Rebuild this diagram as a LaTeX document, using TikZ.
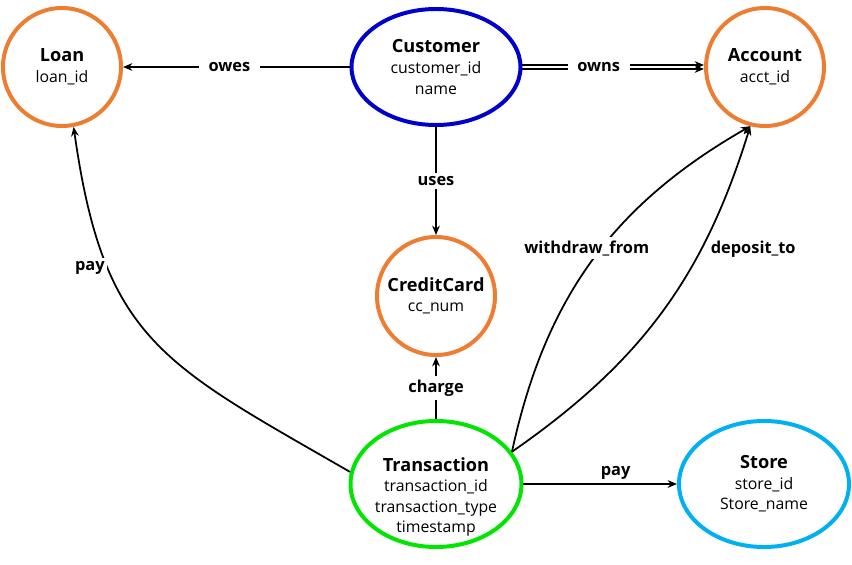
\documentclass[tikz,border=0pt]{standalone}
\usepackage{fontspec}
\setmainfont{Open Sans}
\usepackage{xcolor}
\usepackage{tikz}
\usetikzlibrary{shapes.geometric,arrows.meta}
\definecolor{entorange}{RGB}{237,125,49}
\definecolor{entblue}{RGB}{0,0,204}
\definecolor{entgreen}{RGB}{0,230,0}
\definecolor{entcyan}{RGB}{0,176,240}
\newcommand{\fieldfont}{\fontsize{13.5}{17.6}\selectfont}
\newcommand{\titlefont}{\fontsize{15.5}{17.6}\selectfont\bfseries}

\begin{document}
\begin{tikzpicture}[x=0.3mm,y=-0.3mm,>={Stealth[length=2.8mm,width=2.3mm]},
	entity/.style={draw,line width=3.4pt,inner sep=0pt,align=center,font=\fieldfont},
	fields/.style={align=center,font=\fieldfont,inner sep=0pt},
	rel/.style={->,line width=1.5pt},
	rellabel/.style={fill=white,inner xsep=8pt,inner ysep=3pt,font=\fontsize{14}{16}\selectfont\bfseries},
	sidelabel/.style={rellabel,inner xsep=2pt}]
	
	\useasboundingbox (0,0) rectangle (852,564);
	
	\node[entity,circle,draw=entorange,minimum size=35.4mm] (Loan) at (62,67)
		{{\titlefont Loan}\\loan\_id};
	\node[entity,ellipse,draw=entblue,minimum width=50.7mm,minimum height=34.8mm] (Cust) at (436,67)
		{{\titlefont Customer}\\customer\_id\\name};
	\node[entity,circle,draw=entorange,minimum size=35.4mm] (Acct) at (765,67)
		{{\titlefont Account}\\acct\_id};
	\node[entity,circle,draw=entorange,minimum size=35.4mm] (Card) at (436,296)
		{{\titlefont CreditCard}\\cc\_num};
	\node[entity,ellipse,draw=entgreen,minimum width=51.3mm,minimum height=37.8mm,
		label={[fields,yshift=-3.9mm]center:{{\titlefont Transaction}\\transaction\_id\\transaction\_type\\timestamp}}]
		(Trans) at (436,484) {}; % text sits low in the ellipse
	\node[entity,ellipse,draw=entcyan,minimum width=51mm,minimum height=37.8mm] (Store) at (764,484)
		{{\titlefont Store}\\store\_id\\Store\_name};
	
	\draw[rel] (Cust) -- node[rellabel,pos=0.53]{owes} (Loan);
	\draw[rel,transform canvas={yshift=1.7pt}] (Cust) -- (Acct);  % double line
	\draw[rel,transform canvas={yshift=-1.7pt}] (Cust) -- (Acct);
	\path (Cust) -- node[rellabel,pos=0.42]{owns} (Acct);
	\draw[rel] (Cust) -- node[rellabel]{uses} (Card);
	\draw[rel] (Trans) -- node[rellabel]{charge} (Card);
	\draw[rel] (Trans) -- node[sidelabel,pos=0.6,above=0pt]{pay} (Store);
	
	\draw[rel] (Trans.23) to[bend left=24] node[sidelabel,pos=0.54,xshift=-4.5mm]{withdraw\_from} (Acct.256);
	\draw[rel] (Trans.23) to[bend right=19] node[sidelabel,pos=0.69,right,xshift=2mm]{deposit\_to} (Acct.256);
	\draw[rel] (Trans.172) to[out=150,in=-82,looseness=1.25] node[sidelabel,pos=0.72,left]{pay} (Loan.281);
	
\end{tikzpicture}
\end{document}
